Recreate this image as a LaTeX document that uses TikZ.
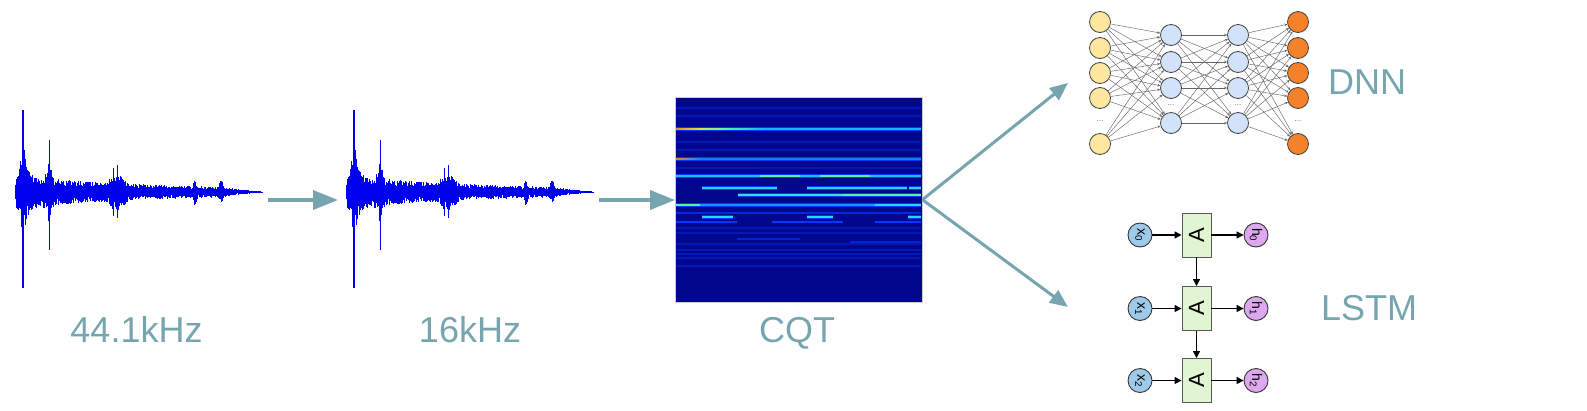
\documentclass[tikz,border=0pt]{standalone}
\usepackage{fontspec}
\setmainfont{Liberation Sans}
\usepackage{graphicx}
\usetikzlibrary{arrows.meta}
\definecolor{flowc}{HTML}{76A5AF}
\definecolor{wblue}{HTML}{0000F0}
\definecolor{cBg}{HTML}{00078C}
\definecolor{cBl}{HTML}{0038FF}
\definecolor{cCy}{HTML}{20D8FF}
\definecolor{cGr}{HTML}{60F0A0}
\definecolor{cYe}{HTML}{E8E040}
\definecolor{cOr}{HTML}{E88A20}
\definecolor{dnnY}{HTML}{FFE7A0}
\definecolor{dnnB}{HTML}{D3E2FB}
\definecolor{dnnO}{HTML}{F5822A}
\definecolor{lstX}{HTML}{9FC9E8}
\definecolor{lstH}{HTML}{DDA8EE}
\definecolor{lstA}{HTML}{E2F5D3}
\tikzset{
  flow/.style={draw=flowc, line width=4pt, -{Triangle[length=25pt,width=19pt]}},
  flowd/.style={draw=flowc, line width=3pt, -{Triangle[length=18pt,width=15pt]}},
  lbl/.style={text=flowc, font=\fontsize{36}{43}\selectfont, inner sep=0},
  wavl/.style={draw=wblue, line width=0.75pt},
  neuron/.style={circle, draw=black!75, minimum size=21pt, inner sep=0, line width=0.8pt},
  dnnedge/.style={draw=black!60, line width=0.45pt, -{Stealth[length=3pt,width=2.6pt]}},
  dots/.style={text=black!55, font=\fontsize{8}{8}\selectfont, inner sep=0},
  lcirc/.style={circle, draw=black!80, minimum size=24pt, inner sep=0, line width=0.9pt, font=\fontsize{14}{14}\selectfont},
  abox/.style={draw=black!65, fill=lstA, minimum width=29pt, minimum height=44pt, inner sep=0, line width=0.9pt, font=\fontsize{22}{22}\selectfont},
  lstmarr/.style={draw=black, line width=1.3pt, -{Triangle[length=7pt,width=7pt]}},
}
\newcommand{\drawwave}[1]{%
  \pgfmathsetseed{7}%
  \foreach \t in {15,15.5,...,262}{%
    \pgfmathsetmacro{\env}{(1.5+15*exp(-(\t-15)/150))*min(1,(262.5-\t)/45+0.08)*min(1,(\t-14)/4) + 38*exp(-abs(\t-23)/3.5) + 22*exp(-abs(\t-49)/2.5) + 14*exp(-((\t-117)/7)^2) + 7*exp(-((\t-195)/2)^2) + 7*exp(-((\t-221)/2)^2)}%
    \pgfmathsetmacro{\up}{\env*(0.4+0.6*rnd)}%
    \pgfmathsetmacro{\dn}{\env*(0.4+0.6*rnd)}%
    \draw[wavl] (#1+\t,192-\up) -- (#1+\t,192+\dn);
  }%
  \draw[wavl, line width=1.1pt] (#1+23,110) -- (#1+23,288);
  \draw[wavl, line width=0.9pt] (#1+49,140) -- (#1+49,250);
  \draw[wavl, line width=0.8pt] (#1+113,168) -- (#1+113,216);
  \draw[wavl, line width=0.8pt] (#1+117,165) -- (#1+117,218);
}
\newcommand{\cqtl}[5]{%
  \draw[line width=3.8pt, draw=#4] (#2,#1) -- (#3,#1);
  \draw[line width=1.5pt, draw=#5] (#2,#1) -- (#3,#1);}
\begin{document}
\begin{tikzpicture}[x=1pt,y=-1pt]
\useasboundingbox (0,0) rectangle (1587,410);

% waveforms
\drawwave{0}
\drawwave{331}

% CQT
\node[fill=cBg, draw=black!20, line width=0.4pt, minimum width=247pt, minimum height=205pt, inner sep=0, anchor=north west] (cqt) at (675,97) {};
\foreach \yy in {108,116,142,150,168,228,233,244,250,254,258,266}{
  \draw[line width=1.5pt, draw=cBl!35!cBg] (676,\yy) -- (921,\yy);
}
\cqtl{129}{676}{921}{cBl}{cCy!75!cBl}
\shade[left color=cOr, right color=cYe] (676,128.2) rectangle (700,129.8);
\shade[left color=cYe, right color=cGr] (700,128.2) rectangle (725,129.8);
\shade[left color=cGr, right color=cCy!75!cBl] (725,128.2) rectangle (765,129.8);
\cqtl{159}{676}{921}{cBl}{cCy!45!cBl}
\shade[left color=cOr, right color=cCy!45!cBl] (676,158.2) rectangle (700,159.8);
\cqtl{176}{676}{921}{cBl}{cCy!85!cBl}
\draw[line width=1.5pt, cGr] (760,176) -- (800,176);
\draw[line width=1.5pt, cGr] (820,176) -- (870,176);
\cqtl{188}{702}{777}{cBl}{cCy}
\cqtl{188}{807}{907}{cBl}{cCy}
\cqtl{188}{909}{921}{cBl}{cCy}
\cqtl{195}{738}{843}{cBl}{cCy!70!cGr}
\cqtl{195}{843}{921}{cBl}{cGr}
\cqtl{205}{676}{921}{cBl}{cCy!60!cBl}
\draw[line width=1.5pt, cGr] (676,205) -- (700,205);
\draw[line width=1.5pt, cCy] (875,205) -- (921,205);
\draw[line width=1.6pt, cBl!70!cBg] (676,213) -- (921,213);
\cqtl{217}{702}{733}{cBl}{cCy}
\cqtl{217}{807}{833}{cBl}{cCy}
\cqtl{217}{908}{921}{cBl}{cCy}
\draw[line width=2.2pt, cBl] (676,222) -- (737,222);
\draw[line width=2.2pt, cBl] (772,222) -- (843,222);
\draw[line width=2.2pt, cBl] (875,222) -- (921,222);
\draw[line width=2pt, cBl!60!cBg] (737,239) -- (800,239);
\draw[line width=2pt, cBl!60!cBg] (850,242) -- (921,242);

% flow arrows
\coordinate (a1s) at (268,200);
\coordinate (a1e) at (338,200);
\coordinate (a2s) at (599,200);
\draw[flow] (a1s) -- (a1e);
\draw[flow] (a2s) -- (cqt.west |- a2s);
\coordinate (dnnT) at (1068,83);
\coordinate (lstT) at (1068,307);
\draw[flowd] (cqt.east) -- (dnnT);
\draw[flowd] (cqt.east) -- (lstT);

% labels
\node[lbl, anchor=base] (t1) at (136.5,342) {44.1kHz};
\node[lbl, anchor=base] (t2) at (470,342) {16kHz};
\node[lbl, anchor=base] (t3) at (797,342) {CQT};
\node[lbl, anchor=west] (tdnn) at (1328,82) {DNN};
\node[lbl, anchor=west] (tlstm) at (1321,308) {LSTM};

% DNN
\foreach \i/\yy in {1/22,2/48,3/73,4/98,5/144}{
  \node[neuron, fill=dnnY] (a\i) at (1100,\yy) {};
  \node[neuron, fill=dnnO] (d\i) at (1298,\yy) {};
}
\foreach \i/\yy in {1/35,2/62,3/88,4/123}{
  \node[neuron, fill=dnnB] (b\i) at (1171,\yy) {};
  \node[neuron, fill=dnnB] (c\i) at (1238,\yy) {};
}
\foreach \i in {1,...,5}{\foreach \j in {1,...,4}{\draw[dnnedge] (a\i) -- (b\j);}}
\foreach \i in {1,...,4}{\foreach \j in {1,...,4}{\draw[dnnedge] (b\i) -- (c\j);}}
\foreach \i in {1,...,4}{\foreach \j in {1,...,5}{\draw[dnnedge] (c\i) -- (d\j);}}
\node[dots] (da) at (1100,121) {...};
\node[dots] (db) at (1171,105) {...};
\node[dots] (dc) at (1238,105) {...};
\node[dots] (dd) at (1298,121) {...};

% LSTM
\foreach \k/\yy in {0/235,1/308.5,2/380.5}{
  \node[lcirc, fill=lstX] (x\k) at (1140,\yy) {\rotatebox{-90}{x\textsubscript{\k}}};
  \node[abox] (A\k) at (1196.5,\yy) {\rotatebox{90}{A}};
  \node[lcirc, fill=lstH] (h\k) at (1256,\yy) {\rotatebox{-90}{h\textsubscript{\k}}};
  \draw[lstmarr] (x\k) -- (A\k);
  \draw[lstmarr] (A\k) -- (h\k);
}
\draw[lstmarr] (A0) -- (A1);
\draw[lstmarr] (A1) -- (A2);
\end{tikzpicture}
\end{document}
